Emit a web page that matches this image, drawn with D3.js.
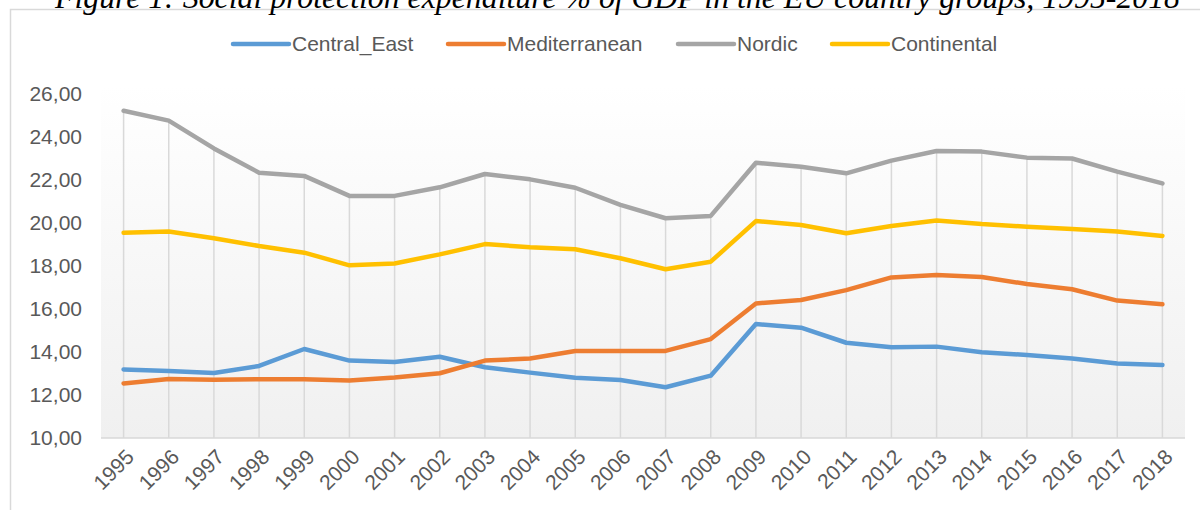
<!DOCTYPE html>
<html>
<head>
<meta charset="utf-8">
<script src="https://cdn.jsdelivr.net/npm/d3@7"></script>
<style>
  body { margin: 0; background: #fff; }
  text { font-family: "Liberation Sans", Arial, sans-serif; }
</style>
</head>
<body>
<div id="chart"></div>
<script>
var years = ["1995","1996","1997","1998","1999","2000","2001","2002","2003","2004","2005","2006",
             "2007","2008","2009","2010","2011","2012","2013","2014","2015","2016","2017","2018"];

var centralEast   = [13.19,13.12,13.02,13.35,14.14,13.60,13.53,13.78,13.29,13.04,12.80,12.70,
                     12.36,12.90,15.30,15.13,14.43,14.22,14.25,13.99,13.86,13.70,13.47,13.40];
var mediterranean = [12.54,12.74,12.71,12.73,12.73,12.67,12.81,13.01,13.60,13.70,14.05,14.05,
                     14.05,14.60,16.26,16.42,16.88,17.47,17.58,17.49,17.16,16.92,16.39,16.22];
var nordic        = [25.22,24.76,23.47,22.34,22.19,21.26,21.26,21.66,22.28,22.03,21.64,20.84,
                     20.22,20.33,22.80,22.62,22.31,22.90,23.35,23.32,23.04,23.00,22.39,21.84];
var continental   = [19.55,19.60,19.29,18.93,18.62,18.03,18.12,18.54,19.02,18.87,18.78,18.36,
                     17.85,18.20,20.09,19.91,19.52,19.86,20.12,19.95,19.83,19.72,19.60,19.40];

var seriesNames  = ["Central_East","Mediterranean","Nordic","Continental"];
var seriesColors = ["#5b9bd5","#ed7d31","#a5a5a5","#ffc000"];
var yTicks = [10,12,14,16,18,20,22,24,26];
var title = "Figure 1: Social protection expenditure % of GDP in the EU country groups, 1995-2018";

var series = [centralEast, mediterranean, nordic, continental].map(function(v, i) {
  return { name: seriesNames[i], color: seriesColors[i],
           values: v.map(function(d, j) { return { year: years[j], value: d }; }) };
});

var W = 1200, H = 510;
var plot = { left: 101, right: 1185, top: 85, bottom: 438 };

var svg = d3.select("#chart").append("svg")
    .attr("width", W)
    .attr("height", H);

// gradient for the plot area
var grad = svg.append("defs").append("linearGradient")
    .attr("id", "plotbg")
    .attr("x1", 0).attr("y1", 0).attr("x2", 0).attr("y2", 1);
grad.append("stop").attr("offset", "0%").attr("stop-color", "#ffffff");
grad.append("stop").attr("offset", "100%").attr("stop-color", "#f0f0f0");

// chart frame
svg.append("rect")
    .attr("x", 10.5).attr("y", 9.5)
    .attr("width", W + 20).attr("height", H + 20)
    .attr("fill", "#fff")
    .attr("stroke", "#d9d9d9")
    .attr("stroke-width", 1.5);

// title, cut off at the top of the picture
svg.append("text")
    .attr("x", 55)
    .attr("y", 8)
    .attr("textLength", 1125)
    .attr("lengthAdjust", "spacingAndGlyphs")
    .style("font-family", "'Liberation Serif', 'Times New Roman', serif")
    .style("font-style", "italic")
    .style("font-size", "31px")
    .attr("fill", "#000")
    .text(title);

var x = d3.scalePoint()
    .domain(years)
    .range([plot.left, plot.right])
    .padding(0.5);

var y = d3.scaleLinear()
    .domain([10, 26])
    .range([plot.bottom, 94]);

svg.append("rect")
    .attr("x", plot.left)
    .attr("y", plot.top)
    .attr("width", plot.right - plot.left)
    .attr("height", plot.bottom - plot.top)
    .attr("fill", "url(#plotbg)");

// drop lines from the highest point down to the axis
svg.append("g").selectAll("line")
  .data(years).enter()
  .append("line")
    .attr("x1", d => x(d))
    .attr("x2", d => x(d))
    .attr("y1", (d, i) => y(d3.max(series, s => s.values[i].value)))
    .attr("y2", y(10))
    .attr("stroke", "#d9d9d9")
    .attr("stroke-width", 1.5);

// category axis line
svg.append("line")
    .attr("x1", plot.left).attr("x2", plot.right)
    .attr("y1", y(10)).attr("y2", y(10))
    .attr("stroke", "#d9d9d9")
    .attr("stroke-width", 1.5);

// y axis labels
var yAxis = svg.append("g")
    .attr("transform", "translate(82,0)")
    .call(d3.axisLeft(y).tickValues(yTicks).tickSize(0).tickPadding(0)
          .tickFormat(d => d3.format(".2f")(d).replace(".", ",")));
yAxis.select(".domain").remove();
yAxis.selectAll("text")
    .attr("fill", "#595959")
    .style("font-size", "21px")
    .style("font-family", "'Liberation Sans', Arial, sans-serif");

// x axis labels
var xAxis = svg.append("g")
    .attr("transform", "translate(0," + y(10) + ")")
    .call(d3.axisBottom(x).tickSize(0).tickPadding(0));
xAxis.select(".domain").remove();
xAxis.selectAll("text")
    .attr("fill", "#595959")
    .style("font-size", "21px")
    .style("font-family", "'Liberation Sans', Arial, sans-serif")
    .attr("text-anchor", "end")
    .attr("dy", "0.35em")
    .attr("transform", "translate(6,15) rotate(-45)");

var line = d3.line()
    .x(d => x(d.year))
    .y(d => y(d.value));

svg.append("g").selectAll("path")
  .data(series).enter()
  .append("path")
    .attr("d", d => line(d.values))
    .attr("fill", "none")
    .attr("stroke", d => d.color)
    .attr("stroke-width", 4.5)
    .attr("stroke-linejoin", "round")
    .attr("stroke-linecap", "round");

// legend
var legendX = [233, 448, 678, 832];
var legend = svg.append("g").selectAll("g")
  .data(series).enter()
  .append("g")
    .attr("transform", (d, i) => "translate(" + legendX[i] + ",44)");
legend.append("line")
    .attr("x1", 0).attr("x2", 56)
    .attr("y1", 0).attr("y2", 0)
    .attr("stroke", d => d.color)
    .attr("stroke-width", 4.5)
    .attr("stroke-linecap", "round");
legend.append("text")
    .attr("x", 59)
    .attr("dy", "0.35em")
    .attr("fill", "#595959")
    .style("font-size", "21px")
    .text(d => d.name);
</script>
</body>
</html>
